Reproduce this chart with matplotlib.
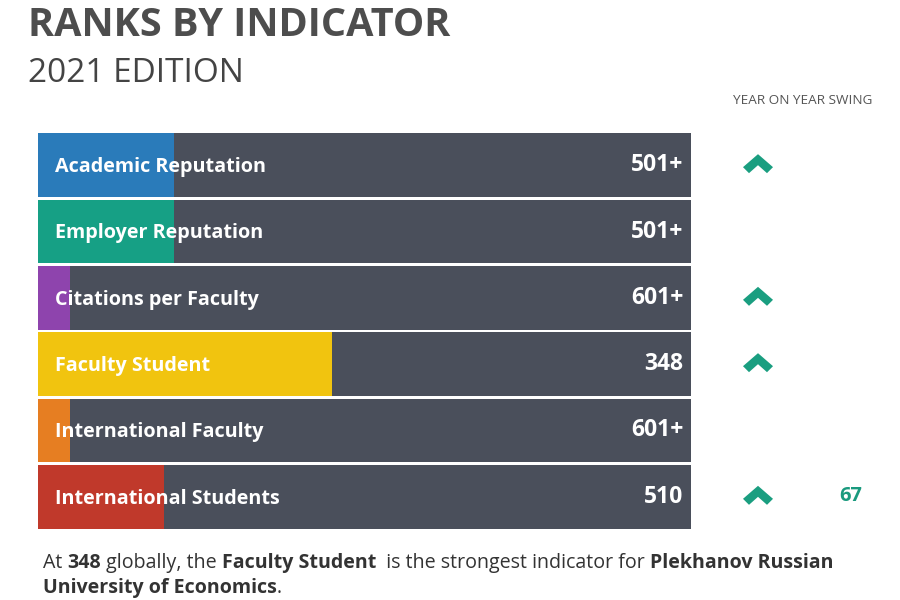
import matplotlib
matplotlib.use('Agg')
import matplotlib.pyplot as plt
from matplotlib.patches import Polygon

plt.rcParams['font.family'] = ['Open Sans', 'DejaVu Sans']

indicators = ['Academic Reputation', 'Employer Reputation', 'Citations per Faculty',
              'Faculty Student', 'International Faculty', 'International Students']
ranks = ['501+', '501+', '601+', '348', '601+', '510']
scores = [20.8, 20.8, 4.9, 45.0, 4.9, 19.3]   # share of the bar that is filled
colors = ['#2a7bba', '#16a085', '#8e44ad', '#f1c40f', '#e67e22', '#c0392b']
swing_up = [True, False, True, True, False, True]
swing_value = ['', '', '', '', '', '67']

W, H = 900, 600
fig = plt.figure(figsize=(9, 6), dpi=100)

# bar panel in pixel terms: x 38..691, y 132..530
ax = fig.add_axes([38 / W, (H - 530) / H, 653 / W, 398 / H])
n = len(indicators)
ypos = list(range(n))
ax.barh(ypos, [100] * n, height=0.955, color='#4a4f5b', left=0)
ax.barh(ypos, scores, height=0.955, color=colors, left=0)
ax.set_xlim(0, 100)
ax.set_ylim(n - 0.5, -0.5)
ax.axis('off')
for i in ypos:
    ax.text(2.6, i + 0.03, indicators[i], color='white', fontsize=14.2, fontweight='bold',
            va='center', ha='left')
    ax.text(98.8, i, ranks[i], color='white', fontsize=16.5, fontweight='bold',
            va='center', ha='right')

# overlay axes in pixel coordinates for headings and swing column
ov = fig.add_axes([0, 0, 1, 1])
ov.set_xlim(0, W)
ov.set_ylim(H, 0)
ov.axis('off')

ov.text(28, 25, 'RANKS BY INDICATOR', fontsize=28.5, fontweight='bold', color='#4d4d4d',
        va='center', ha='left')
ov.text(28, 73, '2021 EDITION', fontsize=24, color='#444444', va='center', ha='left')
ov.text(872, 100, 'YEAR ON YEAR SWING', fontsize=9.7, color='#555555', va='center', ha='right')

slot = 398 / n
for i in ypos:
    cy = 132 + slot * (i + 0.5) - 1
    if swing_up[i]:
        cx = 758
        pts = [(cx - 15, cy + 3), (cx, cy - 10), (cx + 15, cy + 3),
               (cx + 9, cy + 9), (cx, cy + 1), (cx - 9, cy + 9)]
        ov.add_patch(Polygon(pts, closed=True, color='#1a9e80', lw=0))
    if swing_value[i]:
        ov.text(851, cy, swing_value[i], fontsize=14.5, fontweight='bold', color='#1a9a7e',
                va='center', ha='center')

# caption with mixed weights
fig.canvas.draw()
renderer = fig.canvas.get_renderer()
lines = [[('At ', 'normal'), ('348', 'bold'), (' globally, the ', 'normal'),
          ('Faculty Student', 'bold'), ('  is the strongest indicator for ', 'normal'),
          ('Plekhanov Russian', 'bold')],
         [('University of Economics', 'bold'), ('.', 'normal')]]
line_y = [563, 588]
for parts, y in zip(lines, line_y):
    x = 43
    for txt, wt in parts:
        t = ov.text(x, y, txt, fontsize=14.1, fontweight=wt, color='#333333',
                    va='center', ha='left')
        bb = t.get_window_extent(renderer=renderer)
        x += bb.width * (W / fig.bbox.width)

fig.savefig('out.png', dpi=100)
